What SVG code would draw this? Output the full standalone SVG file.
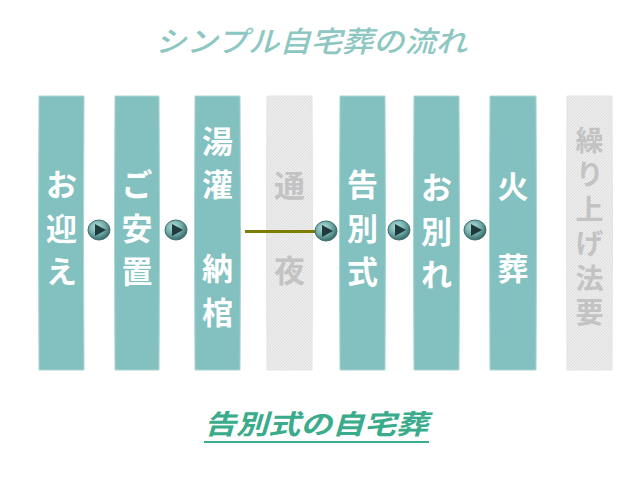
<svg xmlns="http://www.w3.org/2000/svg" width="639" height="480" viewBox="0 0 639 480">
<defs>
<style>
.col{fill:#82c1bf;stroke:#a9d6d4;stroke-width:1}
.gcol{fill:url(#hatch);stroke:#e4e4e4;stroke-width:1}
.t{font-family:"Noto Sans CJK JP","Noto Sans CJK SC",sans-serif;font-size:31px;font-weight:bold;fill:#ffffff;text-anchor:middle}
.g{fill:#c3c3c3}
.btn-c{fill:url(#ball);stroke:#3d6f6e;stroke-width:1}
.btn-t{fill:#1f3a3a}
</style>
<pattern id="hatch" width="3" height="3" patternUnits="userSpaceOnUse">
<rect width="3" height="3" fill="#ececec"/>
<path d="M0 3L3 0" stroke="#dedede" stroke-width="1"/>
</pattern>
<radialGradient id="ball" cx="0.4" cy="0.35" r="0.7">
<stop offset="0" stop-color="#b8e2e0"/>
<stop offset="0.55" stop-color="#6fa9a7"/>
<stop offset="1" stop-color="#2f5f5e"/>
</radialGradient>
<g id="arrow">
<ellipse class="btn-c" cx="0" cy="0" rx="11" ry="10"/>
<path class="btn-t" d="M-4 -6L7 0L-4 6Z"/>
</g>
</defs>
<rect width="639" height="480" fill="#ffffff"/>

<text x="311" y="52" font-family="Noto Sans CJK JP,sans-serif" font-size="29" font-weight="500" font-style="italic" fill="#8ec7c2" text-anchor="middle" textLength="312" lengthAdjust="spacingAndGlyphs">シンプル自宅葬の流れ</text>

<g id="node-omukae">
<path class="col" d="M39 96H84Q83 233 84 370H39Q38 233 39 96Z"/>
<text class="t"><tspan x="61.5" y="196">お</tspan><tspan x="61.5" y="240">迎</tspan><tspan x="61.5" y="283">え</tspan></text>
</g>
<g id="node-anchi">
<path class="col" d="M115 96H159Q160 233 159 370H115Q114 233 115 96Z"/>
<text class="t"><tspan x="137" y="196">ご</tspan><tspan x="137" y="240">安</tspan><tspan x="137" y="283">置</tspan></text>
</g>
<g id="node-yukan">
<path class="col" d="M195 96H240Q241 233 240 370H195Q194 233 195 96Z"/>
<text class="t"><tspan x="217.5" y="153">湯</tspan><tspan x="217.5" y="196">灌</tspan><tspan x="217.5" y="280">納</tspan><tspan x="217.5" y="324">棺</tspan></text>
</g>
<g id="node-tsuya">
<path class="gcol" d="M267 96H312Q313 233 312 370H267Q266 233 267 96Z"/>
<text class="t g"><tspan x="289.5" y="197">通</tspan><tspan x="289.5" y="282">夜</tspan></text>
</g>
<g id="node-kokubetsu">
<path class="col" d="M340 96H385Q386 233 385 370H340Q339 233 340 96Z"/>
<text class="t"><tspan x="362.5" y="196">告</tspan><tspan x="362.5" y="240">別</tspan><tspan x="362.5" y="283">式</tspan></text>
</g>
<g id="node-owakare">
<path class="col" d="M414 96H459Q460 233 459 370H414Q413 233 414 96Z"/>
<text class="t"><tspan x="436.5" y="199">お</tspan><tspan x="436.5" y="243">別</tspan><tspan x="436.5" y="286">れ</tspan></text>
</g>
<g id="node-kaso">
<path class="col" d="M490 96H536Q537 233 536 370H490Q489 233 490 96Z"/>
<text class="t"><tspan x="513" y="198">火</tspan><tspan x="513" y="280">葬</tspan></text>
</g>
<g id="node-kuriage">
<path class="gcol" d="M567 96H612Q613 233 612 370H567Q566 233 567 96Z"/>
<text class="g" x="589.5" y="126" writing-mode="tb" font-family="Noto Sans CJK JP,sans-serif" font-size="28" font-weight="bold" letter-spacing="6.5">繰り上げ法要</text>
</g>

<g id="connectors">
<line x1="245" y1="231.5" x2="318" y2="231.5" stroke="#7d7d00" stroke-width="3"/>
<use href="#arrow" x="99" y="230"/>
<use href="#arrow" x="176" y="230"/>
<use href="#arrow" x="326" y="231"/>
<use href="#arrow" x="399" y="230"/>
<use href="#arrow" x="475" y="230"/>
</g>

<text x="316" y="434" font-family="Noto Sans CJK JP,sans-serif" font-size="27" font-weight="bold" font-style="italic" fill="#3aab8b" text-anchor="middle" textLength="224" lengthAdjust="spacingAndGlyphs">告別式の自宅葬</text>
<line x1="204" y1="442" x2="429" y2="442" stroke="#3aab8b" stroke-width="2"/>
</svg>
